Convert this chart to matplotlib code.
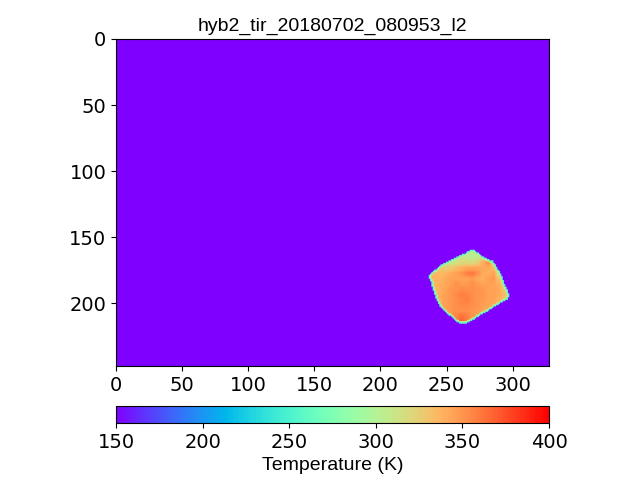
import matplotlib
matplotlib.use("Agg")
import matplotlib.pyplot as plt
import numpy as np

title = "hyb2_tir_20180702_080953_l2"
cbar_label = "Temperature (K)"
n_rows, n_cols = 248, 328
space_temp = 150.0
rim_temp = 255.0
rim2_temp = 300.0
vmin, vmax = 150, 400

# asteroid outline, one (left, right) per image row starting at first_row
first_row = 160
left_edge = [268, 266, 265, 262, 260, 258, 256, 254, 252, 250, 248, 246, 245, 244,
             243, 241, 240, 239, 238, 237, 237, 237, 238, 238, 239, 239, 239, 239,
             240, 240, 240, 241, 241, 241, 242, 242, 242, 243, 243, 244, 244, 245,
             245, 246, 247, 248, 249, 250, 251, 252, 254, 255, 256, 257, 258, 260]
right_edge = [271, 272, 274, 275, 276, 278, 280, 282, 285, 285, 286, 287, 287, 288,
              288, 289, 290, 290, 291, 291, 292, 292, 292, 293, 293, 293, 294, 294,
              295, 295, 296, 296, 296, 297, 297, 297, 296, 296, 294, 292, 290, 289,
              287, 285, 284, 282, 281, 279, 277, 275, 274, 272, 271, 269, 267, 265]

# surface temperature (K) read in blocks of 4 image pixels, from (236, 160)
block_size = 4
block_x0, block_y0 = 236, 160
surface_temp = [
    [320, 320, 320, 320, 310, 305, 305, 305, 305, 305, 300, 300, 300, 300, 300, 300],
    [320, 320, 320, 320, 310, 310, 310, 308, 305, 310, 318, 310, 300, 300, 300, 300],
    [320, 320, 320, 315, 315, 315, 320, 322, 320, 325, 340, 352, 325, 300, 300, 300],
    [330, 330, 328, 325, 328, 335, 340, 345, 345, 345, 342, 342, 335, 305, 300, 300],
    [335, 335, 335, 338, 342, 345, 350, 358, 360, 352, 342, 340, 345, 318, 305, 305],
    [338, 338, 338, 342, 345, 345, 345, 345, 348, 342, 340, 345, 348, 332, 312, 310],
    [338, 338, 340, 342, 346, 352, 348, 348, 352, 348, 345, 345, 345, 340, 322, 315],
    [338, 338, 340, 345, 350, 350, 354, 352, 352, 350, 348, 345, 345, 342, 330, 320],
    [338, 338, 342, 346, 350, 354, 358, 356, 352, 350, 350, 345, 345, 342, 335, 322],
    [340, 340, 342, 346, 350, 353, 356, 358, 353, 350, 348, 345, 345, 340, 332, 322],
    [340, 340, 343, 346, 350, 352, 355, 354, 352, 350, 346, 345, 342, 335, 325, 320],
    [340, 340, 340, 345, 350, 352, 352, 352, 350, 348, 345, 340, 335, 325, 320, 320],
    [340, 340, 340, 342, 350, 356, 362, 358, 350, 346, 340, 332, 325, 320, 320, 320],
    [340, 340, 340, 340, 350, 362, 368, 360, 348, 340, 330, 320, 320, 320, 320, 320],
]


def _erode(mask):
    out = mask.copy()
    out[1:, :] &= mask[:-1, :]
    out[:-1, :] &= mask[1:, :]
    out[:, 1:] &= mask[:, :-1]
    out[:, :-1] &= mask[:, 1:]
    return out


def _box_blur(arr, passes=1):
    # softens the block edges a bit, the real frame is not blocky
    out = arr.copy()
    for _ in range(passes):
        for axis in (0, 1):
            out = (np.roll(out, 1, axis) + out + np.roll(out, -1, axis)) / 3.0
    return out


def build_frame():
    mask = np.zeros((n_rows, n_cols), dtype=bool)
    for i, (lo, hi) in enumerate(zip(left_edge, right_edge)):
        mask[first_row + i, lo:hi + 1] = True

    temps = np.kron(np.array(surface_temp, dtype=float), np.ones((block_size, block_size)))
    field = np.full((n_rows, n_cols), 340.0)
    h, w = temps.shape
    field[block_y0:block_y0 + h, block_x0:block_x0 + w] = temps
    field = _box_blur(field)

    inner = _erode(mask)
    frame = np.full((n_rows, n_cols), space_temp)
    frame[mask] = rim_temp
    frame[inner] = rim2_temp
    core = _erode(inner)
    frame[core] = field[core]
    return frame


fig = plt.figure(figsize=(6.4, 4.8), dpi=100)
ax = fig.add_axes([116 / 640, 114 / 480, 433 / 640, 327 / 480])
im = ax.imshow(build_frame(), cmap="rainbow", vmin=vmin, vmax=vmax, aspect="auto",
               extent=(-0.5, n_cols - 0.5, n_rows - 0.5, -0.5))
ax.set_xlim(0, 327.5)
ax.set_ylim(247.5, 0)
ax.set_xticks(np.arange(0, 301, 50))
ax.set_yticks(np.arange(0, 201, 50))
ax.tick_params(labelsize=14)
ax.set_title(title, fontsize=14, family="Liberation Sans", pad=6)

cax = fig.add_axes([116 / 640, 57 / 480, 433 / 640, 17 / 480])
cbar = fig.colorbar(im, cax=cax, orientation="horizontal", ticks=np.arange(150, 401, 50))
cbar.ax.tick_params(labelsize=14)
cbar.set_label(cbar_label, fontsize=14, family="Liberation Sans")

fig.savefig("out.png", dpi=100)
